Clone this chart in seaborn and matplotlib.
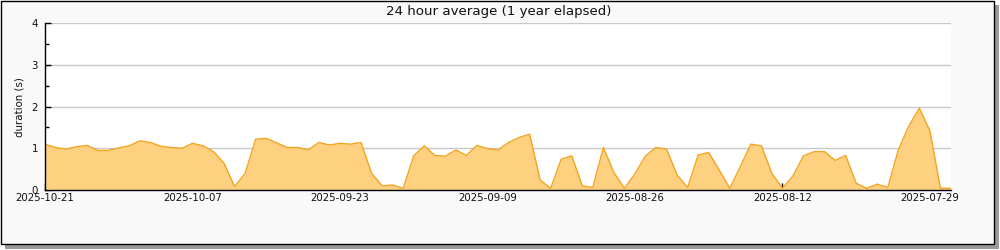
import matplotlib
matplotlib.use("Agg")
import matplotlib.pyplot as plt
import matplotlib.dates as mdates
from matplotlib.patches import Rectangle
import seaborn as sns
import pandas as pd
import numpy as np

# ---- data ----
title = "24 hour average (1 year elapsed)"
y_label = "duration (s)"
start_date = "2025-10-21"
end_date = "2025-07-27"
durations = [
    1.10, 1.02, 0.98, 1.04, 1.07, 0.95, 0.95, 1.01, 1.06, 1.18,
    1.14, 1.05, 1.02, 1.00, 1.12, 1.06, 0.92, 0.64, 0.08, 0.40,
    1.22, 1.24, 1.13, 1.02, 1.02, 0.96, 1.14, 1.08, 1.12, 1.10,
    1.14, 0.40, 0.10, 0.12, 0.04, 0.82, 1.06, 0.83, 0.81, 0.96,
    0.83, 1.07, 0.99, 0.96, 1.14, 1.26, 1.34, 0.24, 0.04, 0.74,
    0.82, 0.10, 0.06, 1.02, 0.42, 0.04, 0.39, 0.82, 1.02, 0.98,
    0.36, 0.06, 0.84, 0.90, 0.48, 0.04, 0.56, 1.10, 1.06, 0.40,
    0.04, 0.34, 0.82, 0.92, 0.92, 0.71, 0.83, 0.16, 0.04, 0.14,
    0.06, 0.96, 1.54, 1.96, 1.42, 0.04, 0.04,
]
y_ticks = [0, 1, 2, 3, 4]

dates = pd.date_range(end=start_date, start=end_date, freq="D")[::-1]
df = pd.DataFrame({"date": dates, "duration": durations})

# ---- style ----
sns.set_theme(style="white")
plt.rcParams["font.family"] = ["DejaVu Sans"]

LINE = "#f5a41e"
FILL = "#fdd17f"

fig = plt.figure(figsize=(10, 2.5), dpi=100, facecolor="white")

# shadow + frame
fig.patches.append(Rectangle((5 / 1000, 1 / 250), 994 / 1000, 244 / 250,
                             transform=fig.transFigure, facecolor="#9a9a9a",
                             edgecolor="none", zorder=0))
fig.patches.append(Rectangle((0.5 / 1000, 6 / 250), 993.5 / 1000, 243.5 / 250,
                             transform=fig.transFigure, facecolor="#f9f9f9",
                             edgecolor="black", linewidth=1.0, zorder=1))

ax = fig.add_axes([45 / 1000, 1 - 190 / 250, 906 / 1000, (190 - 23.3) / 250])
ax.set_facecolor("white")
ax.set_zorder(2)

ax.fill_between(df["date"], df["duration"], 0, color=FILL, linewidth=0, zorder=2)
sns.lineplot(data=df, x="date", y="duration", ax=ax, color=LINE, linewidth=1.0, zorder=3)

ax.set_xlim(pd.Timestamp(start_date), pd.Timestamp(end_date))
ax.set_ylim(0, 4)
ax.set_yticks(y_ticks)
ax.yaxis.set_minor_locator(matplotlib.ticker.MultipleLocator(0.5))

ax.xaxis.set_major_locator(mdates.DayLocator(bymonthday=None, interval=1))
major = pd.date_range(end=start_date, periods=7, freq="14D")[::-1]
minor = pd.date_range(end=start_date, periods=13, freq="7D")[::-1]
ax.set_xticks(major)
ax.set_xticks(minor, minor=True)
ax.xaxis.set_major_formatter(mdates.DateFormatter("%Y-%m-%d"))

ax.grid(axis="y", which="major", color="#c8c8c8", linewidth=1.0, zorder=1)
ax.grid(axis="x", visible=False)
ax.set_axisbelow(True)

for side in ["top", "right"]:
    ax.spines[side].set_visible(False)
for side in ["left", "bottom"]:
    ax.spines[side].set_color("black")
    ax.spines[side].set_linewidth(1.0)
    ax.spines[side].set_zorder(5)

ax.tick_params(axis="both", which="both", direction="in", color="black",
               width=1.0, labelsize=7.4, labelcolor="#111111")
ax.tick_params(axis="y", which="major", length=4, pad=5)
ax.tick_params(axis="y", which="minor", length=3)
ax.tick_params(axis="x", which="major", length=5, pad=2)
ax.tick_params(axis="x", which="minor", length=5)
ax.tick_params(left=True, bottom=True, which="both")

ax.set_xlabel("")
ax.set_ylabel(y_label, fontsize=7.4, color="#111111")
ax.yaxis.set_label_coords(-0.023, 0.5)

fig.text(0.499, 1 - 11 / 250, title, ha="center", va="center", fontsize=9.6,
         color="#111111")

fig.savefig("out.png", dpi=100, facecolor=fig.get_facecolor())
